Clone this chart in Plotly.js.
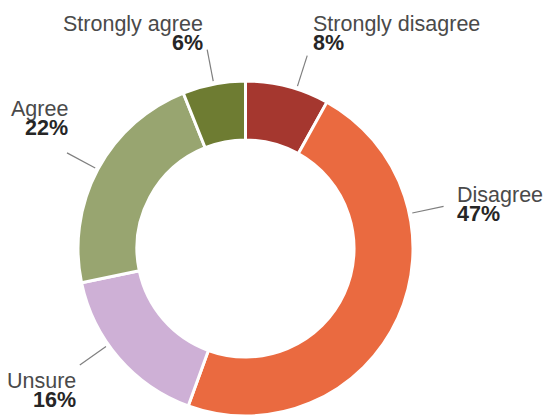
<!DOCTYPE html>
<html>
<head>
<meta charset="utf-8">
<script src="https://cdn.plot.ly/plotly-3.0.1.min.js"></script>
<style>
  html, body { margin: 0; padding: 0; background: #ffffff; }
  #chart { width: 544px; height: 417px; }
</style>
</head>
<body>
<div id="chart"></div>
<script>
// ---- data ----
const categories = ["Strongly disagree", "Disagree", "Unsure", "Agree", "Strongly agree"];
const values = [8, 47, 16, 22, 6];
const pctLabels = ["8%", "47%", "16%", "22%", "6%"];

// ---- style ----
const colors = ["#a5372f", "#ea6a40", "#ceb0d6", "#98a570", "#6e7c32"];
const W = 544, H = 417;
const cx = 245.5, cy = 248.5, R = 167.5;
// where along each slice the leader line attaches (fraction of slice span)
const leaderFrac = [0.61, 0.286, 0.6, 0.5, 0.5];
// label text placement (pixels): x edge, cap-middle y for name line, side
const labelX = [311.5, 455.5, 76.5, 68.5, 203.5];
const labelY = [24.2, 194.8, 380.5, 109.2, 24.2];
const labelSide = ["left", "left", "right", "right", "right"];
const lineGap = 19;
const fontSize = 21.5;

const px = x => x / W;
const py = y => 1 - y / H;

const total = values.reduce((a, b) => a + b, 0);
const shapes = [];
const annotations = [];
let cum = 0;
values.forEach((v, i) => {
  const a0 = cum / total * 2 * Math.PI;
  const a1 = (cum + v) / total * 2 * Math.PI;
  cum += v;
  const a = a0 + (a1 - a0) * leaderFrac[i];
  const r1 = R + 3, r2 = R + 35;
  shapes.push({
    type: "line", xref: "paper", yref: "paper",
    x0: px(cx + r1 * Math.sin(a)), y0: py(cy - r1 * Math.cos(a)),
    x1: px(cx + r2 * Math.sin(a)), y1: py(cy - r2 * Math.cos(a)),
    line: { color: "#7f7f7f", width: 1.2 }
  });
  annotations.push({
    xref: "paper", yref: "paper", showarrow: false,
    x: px(labelX[i]), y: py(labelY[i]),
    xanchor: labelSide[i], yanchor: "middle",
    text: categories[i], borderpad: 0,
    font: { family: "Liberation Sans, Arial, sans-serif", size: fontSize, color: "#4a4a4a" }
  });
  annotations.push({
    xref: "paper", yref: "paper", showarrow: false,
    x: px(labelX[i]), y: py(labelY[i] + lineGap),
    xanchor: labelSide[i], yanchor: "middle",
    text: "<b>" + pctLabels[i] + "</b>", borderpad: 0,
    font: { family: "Liberation Sans, Arial, sans-serif", size: fontSize, color: "#262626" }
  });
});

const trace = {
  type: "pie",
  labels: categories,
  values: values,
  sort: false,
  direction: "clockwise",
  rotation: 0,
  hole: 0.648,
  textinfo: "none",
  hoverinfo: "label+percent",
  marker: { colors: colors, line: { color: "#ffffff", width: 3 } },
  domain: { x: [px(cx - R), px(cx + R)], y: [py(cy + R), py(cy - R)] },
  showlegend: false
};

const layout = {
  width: W, height: H,
  margin: { l: 0, r: 0, t: 0, b: 0 },
  paper_bgcolor: "#ffffff",
  plot_bgcolor: "#ffffff",
  showlegend: false,
  shapes: shapes,
  annotations: annotations
};

Plotly.newPlot("chart", [trace], layout, { displayModeBar: false, staticPlot: true });
</script>
</body>
</html>
